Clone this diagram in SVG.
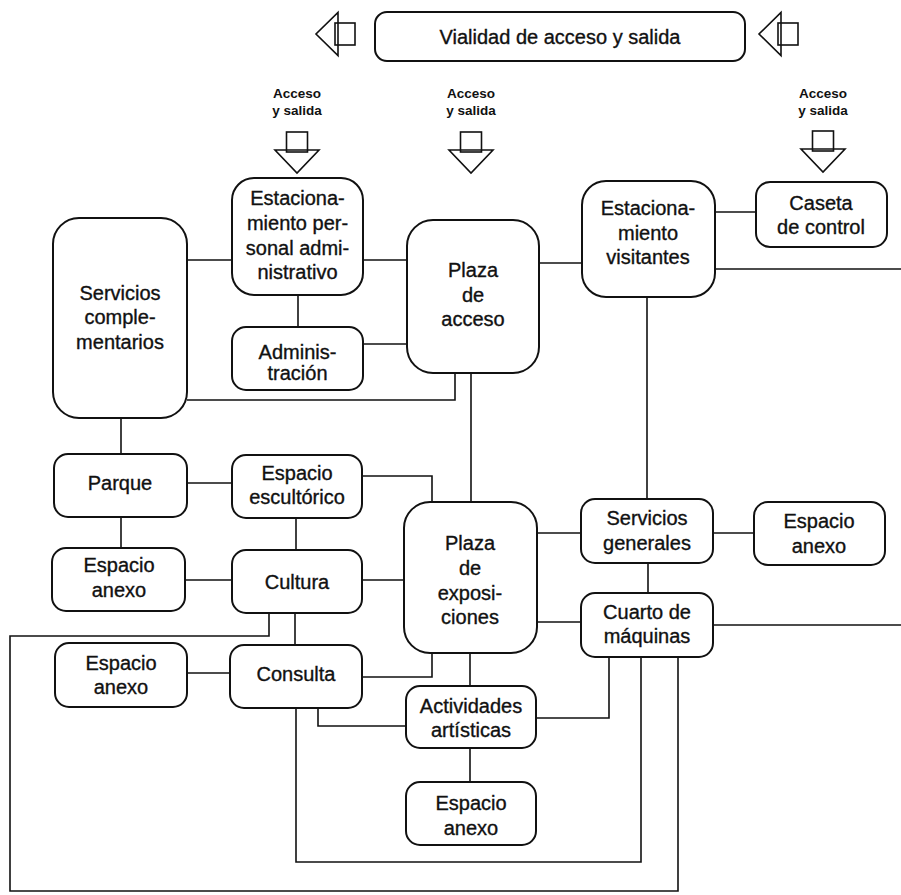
<svg xmlns="http://www.w3.org/2000/svg" width="901" height="895" viewBox="0 0 901 895">
<style>
.box{fill:#fff;stroke:#111;stroke-width:2}
.ln{fill:none;stroke:#111;stroke-width:1.6}
.ic{fill:none;stroke:#111;stroke-width:1.6;stroke-linejoin:miter}
text{font-family:"Liberation Sans",Arial,sans-serif;fill:#111;text-anchor:middle}
.t{font-size:20px;stroke:#111;stroke-width:0.35}
.s{font-size:13.5px;font-weight:bold}
</style>
<defs>
<g id="adown"><rect class="ic" x="-10.5" y="-41" width="21" height="20"/><path class="ic" d="M-22,-23 H22 L0,0 Z"/></g>
<g id="aleft"><path class="ic" d="M22,-21.5 V21.5 L0,0 Z"/><rect class="ic" x="19" y="-11" width="20" height="22"/></g>
</defs>
<rect width="901" height="895" fill="#fff"/>

<g id="connectors">
<path class="ln" d="M187,260 H232"/>
<path class="ln" d="M363,260 H407"/>
<path class="ln" d="M298,295 V327"/>
<path class="ln" d="M363,344 H407"/>
<path class="ln" d="M187,400 H455 V373"/>
<path class="ln" d="M471,373 V502"/>
<path class="ln" d="M539,263 H582"/>
<path class="ln" d="M715,212 H756"/>
<path class="ln" d="M715,269 H901"/>
<path class="ln" d="M647,297 V499"/>
<path class="ln" d="M537,533 H581"/>
<path class="ln" d="M713,533 H754"/>
<path class="ln" d="M648,563 V593"/>
<path class="ln" d="M537,622 H581"/>
<path class="ln" d="M713,625 H901"/>
<path class="ln" d="M121,418 V454"/>
<path class="ln" d="M187,483 H232"/>
<path class="ln" d="M362,476 H432 V502"/>
<path class="ln" d="M296,518 V550"/>
<path class="ln" d="M121,517 V548"/>
<path class="ln" d="M185,580 H232"/>
<path class="ln" d="M362,580 H404"/>
<path class="ln" d="M269,613 V636 H10 V891 H678 V657"/>
<path class="ln" d="M295,613 V645"/>
<path class="ln" d="M187,673 H230"/>
<path class="ln" d="M362,677 H432 V653"/>
<path class="ln" d="M470,653 V686"/>
<path class="ln" d="M318,708 V726 H406"/>
<path class="ln" d="M536,718 H609 V657"/>
<path class="ln" d="M470,748 V782"/>
<path class="ln" d="M296,708 V862 H641 V657"/>
</g>

<g id="vialidad">
<rect class="box" x="375" y="12" width="370" height="49" rx="12"/>
<text class="t" x="560" y="44">Vialidad de acceso y salida</text>
</g>
<g id="flecha-izq-1"><use href="#aleft" x="316" y="34"/></g>
<g id="flecha-izq-2"><use href="#aleft" x="759" y="34"/></g>

<g id="acceso-1">
<text class="s" x="297" y="98">Acceso</text>
<text class="s" x="297" y="115">y salida</text>
<use href="#adown" x="297" y="173"/>
</g>
<g id="acceso-2">
<text class="s" x="471" y="98">Acceso</text>
<text class="s" x="471" y="115">y salida</text>
<use href="#adown" x="471" y="173"/>
</g>
<g id="acceso-3">
<text class="s" x="823" y="98">Acceso</text>
<text class="s" x="823" y="115">y salida</text>
<use href="#adown" x="823" y="172"/>
</g>

<g id="est-personal">
<rect class="box" x="232" y="178" width="131" height="117" rx="22"/>
<text class="t" x="297.5" y="205">Estaciona-</text>
<text class="t" x="297.5" y="230">miento per-</text>
<text class="t" x="297.5" y="255">sonal admi-</text>
<text class="t" x="297.5" y="279">nistrativo</text>
</g>
<g id="servicios-complementarios">
<rect class="box" x="53" y="218" width="134" height="200" rx="26"/>
<text class="t" x="120" y="300">Servicios</text>
<text class="t" x="120" y="324">comple-</text>
<text class="t" x="120" y="349">mentarios</text>
</g>
<g id="administracion">
<rect class="box" x="232" y="327" width="131" height="63" rx="14"/>
<text class="t" x="297.5" y="359">Adminis-</text>
<text class="t" x="297.5" y="380">tración</text>
</g>
<g id="plaza-acceso">
<rect class="box" x="407" y="220" width="132" height="153" rx="26"/>
<text class="t" x="473" y="277">Plaza</text>
<text class="t" x="473" y="302">de</text>
<text class="t" x="473" y="326">acceso</text>
</g>
<g id="est-visitantes">
<rect class="box" x="582" y="181" width="133" height="116" rx="24"/>
<text class="t" x="648" y="215">Estaciona-</text>
<text class="t" x="648" y="240">miento</text>
<text class="t" x="648" y="264">visitantes</text>
</g>
<g id="caseta">
<rect class="box" x="756" y="182" width="131" height="65" rx="14"/>
<text class="t" x="821" y="210">Caseta</text>
<text class="t" x="821" y="234">de control</text>
</g>
<g id="parque">
<rect class="box" x="54" y="454" width="133" height="63" rx="14"/>
<text class="t" x="120" y="490">Parque</text>
</g>
<g id="espacio-escultorico">
<rect class="box" x="232" y="455" width="130" height="63" rx="14"/>
<text class="t" x="297" y="480">Espacio</text>
<text class="t" x="297" y="504">escultórico</text>
</g>
<g id="espacio-anexo-1">
<rect class="box" x="52" y="548" width="133" height="63" rx="14"/>
<text class="t" x="119" y="572">Espacio</text>
<text class="t" x="119" y="597">anexo</text>
</g>
<g id="cultura">
<rect class="box" x="232" y="550" width="130" height="63" rx="14"/>
<text class="t" x="297" y="589">Cultura</text>
</g>
<g id="plaza-exposiciones">
<rect class="box" x="404" y="502" width="133" height="151" rx="26"/>
<text class="t" x="470" y="550">Plaza</text>
<text class="t" x="470" y="575">de</text>
<text class="t" x="470" y="600">exposi-</text>
<text class="t" x="470" y="624">ciones</text>
</g>
<g id="servicios-generales">
<rect class="box" x="581" y="499" width="132" height="64" rx="14"/>
<text class="t" x="647" y="525">Servicios</text>
<text class="t" x="647" y="550">generales</text>
</g>
<g id="espacio-anexo-2">
<rect class="box" x="754" y="502" width="131" height="63" rx="14"/>
<text class="t" x="819" y="528">Espacio</text>
<text class="t" x="819" y="553">anexo</text>
</g>
<g id="cuarto-maquinas">
<rect class="box" x="581" y="593" width="132" height="64" rx="14"/>
<text class="t" x="647" y="619">Cuarto de</text>
<text class="t" x="647" y="643">máquinas</text>
</g>
<g id="espacio-anexo-3">
<rect class="box" x="55" y="643" width="132" height="64" rx="14"/>
<text class="t" x="121" y="670">Espacio</text>
<text class="t" x="121" y="694">anexo</text>
</g>
<g id="consulta">
<rect class="box" x="230" y="645" width="132" height="63" rx="14"/>
<text class="t" x="296" y="681">Consulta</text>
</g>
<g id="actividades-artisticas">
<rect class="box" x="406" y="686" width="130" height="62" rx="14"/>
<text class="t" x="471" y="713">Actividades</text>
<text class="t" x="471" y="737">artísticas</text>
</g>
<g id="espacio-anexo-4">
<rect class="box" x="406" y="782" width="130" height="63" rx="14"/>
<text class="t" x="471" y="810">Espacio</text>
<text class="t" x="471" y="835">anexo</text>
</g>
</svg>
